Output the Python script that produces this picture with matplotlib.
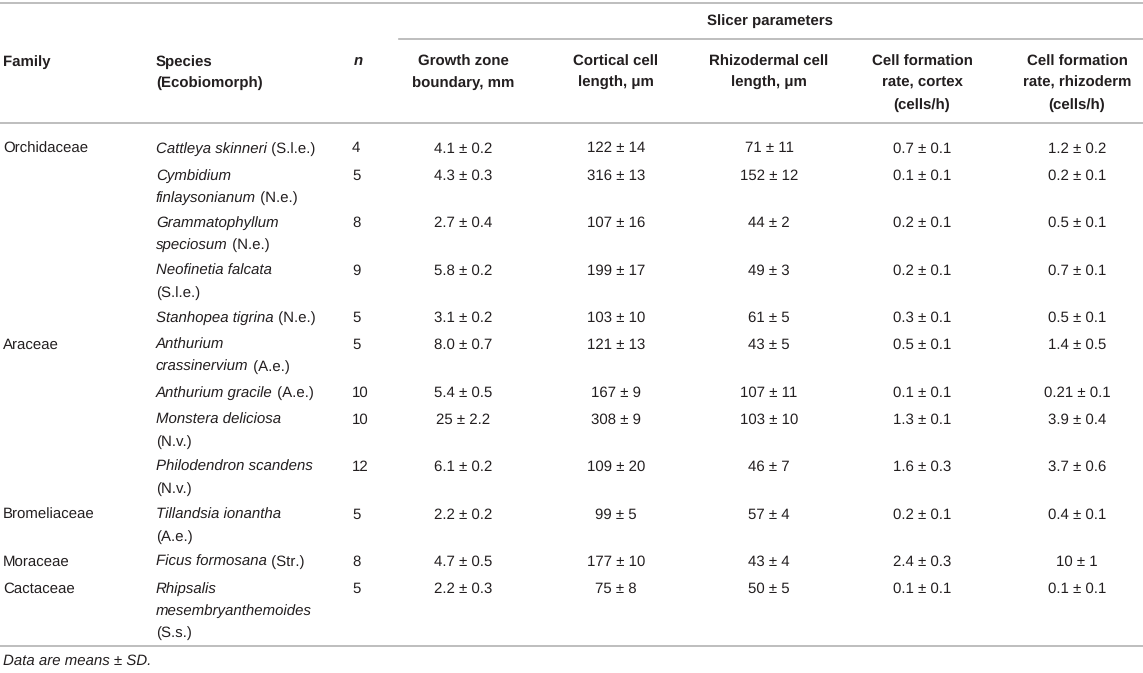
import matplotlib
matplotlib.use("Agg")
import matplotlib.pyplot as plt

# table content
families = ["Orchidaceae", "", "", "", "", "Araceae", "", "", "",
            "Bromeliaceae", "Moraceae", "Cactaceae"]
# *...* marks the italic (species) part, \n the line breaks of the original
species = [
    "*Cattleya skinneri* (S.l.e.)",
    "*Cymbidium*\n*finlaysonianum* (N.e.)",
    "*Grammatophyllum*\n*speciosum* (N.e.)",
    "*Neofinetia falcata*\n(S.l.e.)",
    "*Stanhopea tigrina* (N.e.)",
    "*Anthurium*\n*crassinervium* (A.e.)",
    "*Anthurium gracile* (A.e.)",
    "*Monstera deliciosa*\n(N.v.)",
    "*Philodendron scandens*\n(N.v.)",
    "*Tillandsia ionantha*\n(A.e.)",
    "*Ficus formosana* (Str.)",
    "*Rhipsalis*\n*mesembryanthemoides*\n(S.s.)",
]
n_plants = [4, 5, 8, 9, 5, 5, 10, 10, 12, 5, 8, 5]
growth_zone = ["4.1 ± 0.2", "4.3 ± 0.3", "2.7 ± 0.4", "5.8 ± 0.2", "3.1 ± 0.2", "8.0 ± 0.7",
               "5.4 ± 0.5", "25 ± 2.2", "6.1 ± 0.2", "2.2 ± 0.2", "4.7 ± 0.5", "2.2 ± 0.3"]
cortical_len = ["122 ± 14", "316 ± 13", "107 ± 16", "199 ± 17", "103 ± 10", "121 ± 13",
                "167 ± 9", "308 ± 9", "109 ± 20", "99 ± 5", "177 ± 10", "75 ± 8"]
rhizo_len = ["71 ± 11", "152 ± 12", "44 ± 2", "49 ± 3", "61 ± 5", "43 ± 5",
             "107 ± 11", "103 ± 10", "46 ± 7", "57 ± 4", "43 ± 4", "50 ± 5"]
rate_cortex = ["0.7 ± 0.1", "0.1 ± 0.1", "0.2 ± 0.1", "0.2 ± 0.1", "0.3 ± 0.1", "0.5 ± 0.1",
               "0.1 ± 0.1", "1.3 ± 0.1", "1.6 ± 0.3", "0.2 ± 0.1", "2.4 ± 0.3", "0.1 ± 0.1"]
rate_rhizo = ["1.2 ± 0.2", "0.2 ± 0.1", "0.5 ± 0.1", "0.7 ± 0.1", "0.5 ± 0.1", "1.4 ± 0.5",
              "0.21 ± 0.1", "3.9 ± 0.4", "3.7 ± 0.6", "0.4 ± 0.1", "10 ± 1", "0.1 ± 0.1"]

param_headers = ["Growth zone\nboundary, mm", "Cortical cell\nlength, μm",
                 "Rhizodermal cell\nlength, μm", "Cell formation\nrate, cortex\n(cells/h)",
                 "Cell formation\nrate, rhizoderm\n(cells/h)"]
group_title = "Slicer parameters"
footnote = "Data are means ± SD."

# layout (pixels)
W, H = 1143, 673
FS = 10.6
TXT = "#231f20"
RULE = "#b3b3b3"
x_family, x_species, x_n = 3, 156, 352
x_params = [463, 616, 769, 922, 1077]
line_h = 22

plt.rcParams["font.family"] = ["Liberation Sans", "DejaVu Sans"]
plt.rcParams["text.hinting"] = "no_hinting"
plt.rcParams["text.hinting_factor"] = 1

fig = plt.figure(figsize=(W / 100, H / 100), dpi=100)
ax = fig.add_axes([0, 0, 1, 1])
ax.set_xlim(0, W)
ax.set_ylim(H, 0)
ax.axis("off")
renderer = fig.canvas.get_renderer()


def multiline(x, y, text, ha="left", **kw):
    for i, line in enumerate(text.split("\n")):
        ax.text(x, y + i * 21.5, line, ha=ha, va="center_baseline",
                fontsize=FS, color=TXT, **kw)


def mixed(x, y, text):
    # text with *italic* parts, drawn piece by piece
    for i, line in enumerate(text.split("\n")):
        cx = x
        parts = line.split("*")
        for k, part in enumerate(parts):
            if not part:
                continue
            t = ax.text(cx, y + i * line_h, part, ha="left", va="center_baseline",
                        fontsize=FS, color=TXT, style="italic" if k % 2 else "normal")
            bb = t.get_window_extent(renderer=renderer)
            cx += bb.width * W / fig.bbox.width


# rules
ax.plot([0, W], [3, 3], color=RULE, lw=1.2)
ax.plot([399, W], [39, 39], color=RULE, lw=1.2)
ax.plot([0, W], [123, 123], color=RULE, lw=1.2)

# header
ax.text(770, 19, group_title, ha="center", va="center_baseline", fontsize=FS,
        color=TXT, weight="bold")
multiline(x_family, 60, "Family", weight="bold")
multiline(x_species, 60, "Species\n(Ecobiomorph)", weight="bold")
ax.text(x_n + 2, 60, "n", ha="left", va="center_baseline", fontsize=FS, color=TXT,
        weight="bold", style="italic")
for xc, h in zip(x_params, param_headers):
    multiline(xc, 60, h, ha="center", weight="bold")

# body
columns = [growth_zone, cortical_len, rhizo_len, rate_cortex, rate_rhizo]
y = 147
for r in range(len(species)):
    multiline(x_family, y, families[r])
    mixed(x_species, y, species[r])
    multiline(x_n, y, str(n_plants[r]))
    for xc, col in zip(x_params, columns):
        multiline(xc, y, col[r], ha="center")
    n_lines = species[r].count("\n") + 1
    last = y + (n_lines - 1) * line_h
    if r < len(species) - 1:
        y = last + (27 if n_lines == 1 else 25.5)

ax.plot([0, W], [last + 14, last + 14], color=RULE, lw=1.2)
ax.text(x_family, last + 28, footnote, ha="left", va="center_baseline", fontsize=FS,
        color=TXT, style="italic")

fig.savefig("out.png", dpi=100)
